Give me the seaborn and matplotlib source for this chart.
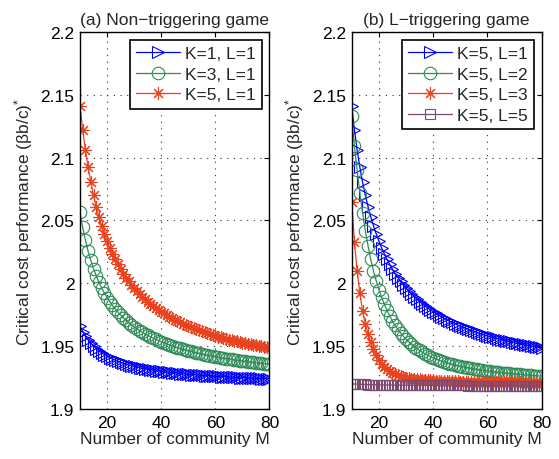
import matplotlib
matplotlib.use("Agg")
import matplotlib.pyplot as plt
import seaborn as sns

# community size M, same for every curve
M = list(range(10, 81))

# (a) non-triggering game
k1_l1 = [1.9660, 1.9616, 1.9580, 1.9549, 1.9523, 1.9500, 1.9480, 1.9462, 1.9447, 1.9433,
         1.9420, 1.9409, 1.9398, 1.9389, 1.9380, 1.9372, 1.9365, 1.9358, 1.9351, 1.9346,
         1.9340, 1.9335, 1.9330, 1.9325, 1.9321, 1.9317, 1.9313, 1.9310, 1.9306, 1.9303,
         1.9300, 1.9297, 1.9294, 1.9292, 1.9289, 1.9287, 1.9284, 1.9282, 1.9280, 1.9278,
         1.9276, 1.9274, 1.9272, 1.9271, 1.9269, 1.9267, 1.9266, 1.9264, 1.9263, 1.9261,
         1.9260, 1.9259, 1.9257, 1.9256, 1.9255, 1.9254, 1.9253, 1.9252, 1.9251, 1.9250,
         1.9249, 1.9248, 1.9247, 1.9246, 1.9245, 1.9244, 1.9243, 1.9242, 1.9242, 1.9241,
         1.9240]
k3_l1 = [2.0565, 2.0445, 2.0343, 2.0256, 2.0182, 2.0117, 2.0060, 2.0009, 1.9964, 1.9924,
         1.9887, 1.9854, 1.9824, 1.9796, 1.9771, 1.9748, 1.9726, 1.9706, 1.9687, 1.9670,
         1.9654, 1.9638, 1.9624, 1.9611, 1.9598, 1.9586, 1.9575, 1.9564, 1.9554, 1.9545,
         1.9536, 1.9527, 1.9519, 1.9511, 1.9503, 1.9496, 1.9489, 1.9482, 1.9476, 1.9470,
         1.9464, 1.9459, 1.9453, 1.9448, 1.9443, 1.9438, 1.9433, 1.9429, 1.9425, 1.9420,
         1.9416, 1.9412, 1.9409, 1.9405, 1.9401, 1.9398, 1.9395, 1.9391, 1.9388, 1.9385,
         1.9382, 1.9379, 1.9376, 1.9374, 1.9371, 1.9368, 1.9366, 1.9363, 1.9361, 1.9359,
         1.9356]
k5_l1 = [2.1412, 2.1221, 2.1060, 2.0923, 2.0805, 2.0701, 2.0611, 2.0530, 2.0458, 2.0394,
         2.0336, 2.0283, 2.0235, 2.0191, 2.0150, 2.0113, 2.0078, 2.0046, 2.0017, 1.9989,
         1.9963, 1.9939, 1.9916, 1.9894, 1.9874, 1.9855, 1.9837, 1.9820, 1.9804, 1.9788,
         1.9774, 1.9760, 1.9747, 1.9734, 1.9722, 1.9710, 1.9699, 1.9689, 1.9679, 1.9669,
         1.9659, 1.9650, 1.9642, 1.9633, 1.9625, 1.9618, 1.9610, 1.9603, 1.9596, 1.9589,
         1.9583, 1.9576, 1.9570, 1.9565, 1.9559, 1.9553, 1.9548, 1.9543, 1.9538, 1.9533,
         1.9528, 1.9523, 1.9519, 1.9514, 1.9510, 1.9506, 1.9502, 1.9498, 1.9494, 1.9490,
         1.9487]

# (b) L-triggering game, K=5 (L=1 is the same curve as k5_l1)
k5_l2 = [2.1330, 2.1090, 2.0900, 2.0720, 2.0560, 2.0420, 2.0300, 2.0190, 2.0100, 2.0020,
         1.9950, 1.9890, 1.9835, 1.9785, 1.9740, 1.9700, 1.9665, 1.9635, 1.9605, 1.9580,
         1.9555, 1.9535, 1.9515, 1.9497, 1.9481, 1.9466, 1.9452, 1.9440, 1.9428, 1.9417,
         1.9407, 1.9398, 1.9390, 1.9382, 1.9375, 1.9368, 1.9362, 1.9356, 1.9350, 1.9345,
         1.9340, 1.9335, 1.9331, 1.9327, 1.9323, 1.9319, 1.9315, 1.9312, 1.9309, 1.9306,
         1.9303, 1.9300, 1.9297, 1.9294, 1.9292, 1.9289, 1.9287, 1.9285, 1.9283, 1.9281,
         1.9279, 1.9277, 1.9275, 1.9273, 1.9271, 1.9270, 1.9268, 1.9266, 1.9265, 1.9263,
         1.9262]
k5_l3 = [2.0650, 2.0330, 2.0100, 1.9920, 1.9780, 1.9680, 1.9600, 1.9530, 1.9475, 1.9430,
         1.9392, 1.9362, 1.9337, 1.9318, 1.9302, 1.9289, 1.9279, 1.9270, 1.9262, 1.9256,
         1.9250, 1.9246, 1.9242, 1.9239, 1.9237, 1.9235, 1.9233, 1.9231, 1.9230, 1.9228,
         1.9227, 1.9226, 1.9225, 1.9224, 1.9223, 1.9222, 1.9221, 1.9220, 1.9219, 1.9219,
         1.9218, 1.9218, 1.9217, 1.9217, 1.9216, 1.9216, 1.9215, 1.9215, 1.9215, 1.9214,
         1.9214, 1.9214, 1.9213, 1.9213, 1.9213, 1.9212, 1.9212, 1.9212, 1.9212, 1.9211,
         1.9211, 1.9211, 1.9211, 1.9211, 1.9210, 1.9210, 1.9210, 1.9210, 1.9210, 1.9210,
         1.9210]
k5_l5 = [1.9200, 1.9199, 1.9198, 1.9197, 1.9196, 1.9195, 1.9194, 1.9194, 1.9193, 1.9193,
         1.9192, 1.9192, 1.9191, 1.9191, 1.9191, 1.9191, 1.9190, 1.9190, 1.9190, 1.9190,
         1.9190, 1.9189, 1.9189, 1.9189, 1.9189, 1.9189, 1.9189, 1.9188, 1.9188, 1.9188,
         1.9188, 1.9188, 1.9188, 1.9188, 1.9187, 1.9187, 1.9187, 1.9187, 1.9187, 1.9187,
         1.9187, 1.9187, 1.9187, 1.9186, 1.9186, 1.9186, 1.9186, 1.9186, 1.9186, 1.9186,
         1.9186, 1.9186, 1.9186, 1.9186, 1.9185, 1.9185, 1.9185, 1.9185, 1.9185, 1.9185,
         1.9185, 1.9185, 1.9185, 1.9185, 1.9185, 1.9185, 1.9185, 1.9185, 1.9185, 1.9185,
         1.9185]

y_ticks = [1.9, 1.95, 2.0, 2.05, 2.1, 2.15, 2.2]
y_tick_labels = ["1.9", "1.95", "2", "2.05", "2.1", "2.15", "2.2"]
x_ticks = [20, 40, 60, 80]

BLUE = "#0000ff"
GREEN = "#2e8b57"
RED = "#e8421e"
PURPLE = "#7b4a70"
STAR = (8, 2, 0)  # asterisk like matlab '*'

sns.set_style("white")
plt.rcParams["font.family"] = ["Liberation Sans", "DejaVu Sans"]
plt.rcParams["mathtext.fontset"] = "custom"
plt.rcParams["mathtext.rm"] = "Liberation Sans"
plt.rcParams["mathtext.it"] = "Liberation Sans"

fig = plt.figure(figsize=(5.59, 4.60), dpi=100)
ax1 = fig.add_axes([0.1431, 0.1087, 0.3390, 0.8196])
ax2 = fig.add_axes([0.6292, 0.1087, 0.3399, 0.8196])

panels = [
    (ax1, "(a) Non\u2212triggering game", [
        (k1_l1, "K=1, L=1", BLUE, ">", 9),
        (k3_l1, "K=3, L=1", GREEN, "o", 9),
        (k5_l1, "K=5, L=1", RED, STAR, 9),
    ]),
    (ax2, "(b) L\u2212triggering game", [
        (k5_l1, "K=5, L=1", BLUE, ">", 9),
        (k5_l2, "K=5, L=2", GREEN, "o", 9),
        (k5_l3, "K=5, L=3", RED, STAR, 9),
        (k5_l5, "K=5, L=5", PURPLE, "s", 7.5),
    ]),
]

for ax, title, series in panels:
    for vals, label, color, mk, ms in series:
        sns.lineplot(x=M, y=vals, ax=ax, label=label, color=color, lw=0.9,
                     marker=mk, markersize=ms, markerfacecolor="none",
                     markeredgecolor=color, markeredgewidth=0.8)
    ax.set_xlim(10, 80)
    ax.set_ylim(1.9, 2.2)
    ax.set_xticks(x_ticks)
    ax.set_yticks(y_ticks)
    ax.set_yticklabels(y_tick_labels)
    ax.tick_params(direction="in", top=True, right=True, length=3.5,
                   width=0.8, labelsize=12.5, color="k", labelcolor="k", pad=4)
    ax.grid(True, color="#303030", lw=0.8, linestyle=(0, (1, 5)))
    for s in ax.spines.values():
        s.set_visible(True)
        s.set_color("k")
        s.set_linewidth(1.0)
    ax.set_title(title, fontsize=12.5, pad=6)
    ax.set_xlabel("Number of community M", fontsize=12.5, labelpad=1)
    ax.set_ylabel("Critical cost performance (\u03b2b/c)$^{*}$", fontsize=12.5, labelpad=4)
    leg = ax.legend(loc="upper right", fontsize=12.5, frameon=True, fancybox=False,
                    edgecolor="k", framealpha=1, handlelength=2.5, handletextpad=0.3,
                    borderpad=0.35, labelspacing=0.32, borderaxespad=0.45)
    leg.get_frame().set_linewidth(1.2)

fig.savefig("out.png", dpi=100)
